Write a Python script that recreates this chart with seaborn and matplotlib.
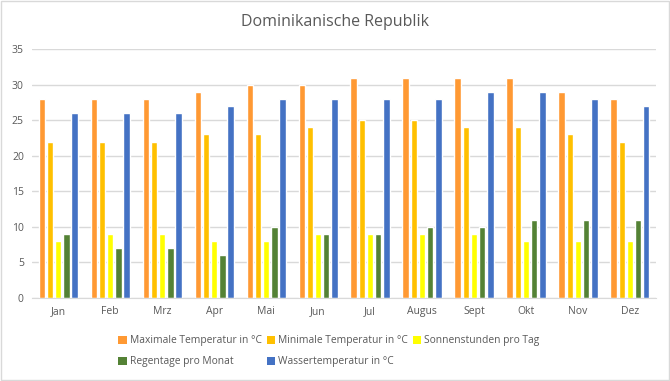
import numpy as np
import pandas as pd
import seaborn as sns
import matplotlib.pyplot as plt
from matplotlib.patches import Rectangle, Patch

######################################
### Data

months = ['Jan', 'Feb', 'Mrz', 'Apr', 'Mai', 'Jun', 'Jul', 'Augus', 'Sept', 'Okt', 'Nov', 'Dez']

max_temp = [28, 28, 28, 29, 30, 30, 31, 31, 31, 31, 29, 28]
min_temp = [22, 22, 22, 23, 23, 24, 25, 25, 24, 24, 23, 22]
sun_hours = [8, 9, 9, 8, 8, 9, 9, 9, 9, 8, 8, 8]
rain_days = [9, 7, 7, 6, 10, 9, 9, 10, 10, 11, 11, 11]
water_temp = [26, 26, 26, 27, 28, 28, 28, 28, 29, 29, 28, 27]

series_names = ['Maximale Temperatur in °C', 'Minimale Temperatur in °C', 'Sonnenstunden pro Tag',
                'Regentage pro Monat', 'Wassertemperatur in °C']
series_vals = [max_temp, min_temp, sun_hours, rain_days, water_temp]
colors = ['#FF9933', '#FFC000', '#FFFF00', '#548235', '#4472C4']

df = pd.DataFrame({'Monat': months * 5,
                   'Serie': np.repeat(series_names, len(months)),
                   'Wert': sum(series_vals, [])})

#####################################
### Plot

sns.set_style('white')
plt.rcParams['font.family'] = ['Open Sans', 'DejaVu Sans']

fig = plt.figure(figsize=(6.7, 3.81), dpi=100)
ax = fig.add_axes([0.048, 0.218, 0.931, 0.653])

sns.barplot(x='Monat', y='Wert', hue='Serie', data=df, order=months, hue_order=series_names,
            palette=colors, width=0.78, gap=0.18, saturation=1, ax=ax, legend=False)

ax.set_ylim(0, 35)
ax.set_yticks(range(0, 36, 5))
ax.set_xlim(-0.5, 11.5)
ax.yaxis.grid(True, color='#D9D9D9', lw=1)
ax.set_axisbelow(True)
for s in ['top', 'left', 'right']:
    ax.spines[s].set_visible(False)
ax.spines['bottom'].set_color('#D9D9D9')
ax.tick_params(axis='both', length=0, labelsize=7.5, labelcolor='#595959', pad=6)
ax.set_xlabel('')
ax.set_ylabel('')

fig.text(0.5, 0.942, 'Dominikanische Republik', ha='center', va='center', fontsize=11.5, color='#595959')

handles = [Patch(facecolor=c, edgecolor='none') for c in colors]
order = [0, 3, 1, 4, 2]
fig.legend([handles[i] for i in order], [series_names[i] for i in order], ncol=3,
           loc='center', bbox_to_anchor=(0.491, 0.078), frameon=False, fontsize=7.4,
           labelcolor='#595959', handlelength=0.8, handleheight=0.8, handletextpad=0.3,
           columnspacing=0.5, labelspacing=0.95)

fig.patches.append(Rectangle((0.001, 0.002), 0.997, 0.995, transform=fig.transFigure,
                             fill=False, edgecolor='#D9D9D9', lw=1))

fig.savefig('out.png', dpi=100)
